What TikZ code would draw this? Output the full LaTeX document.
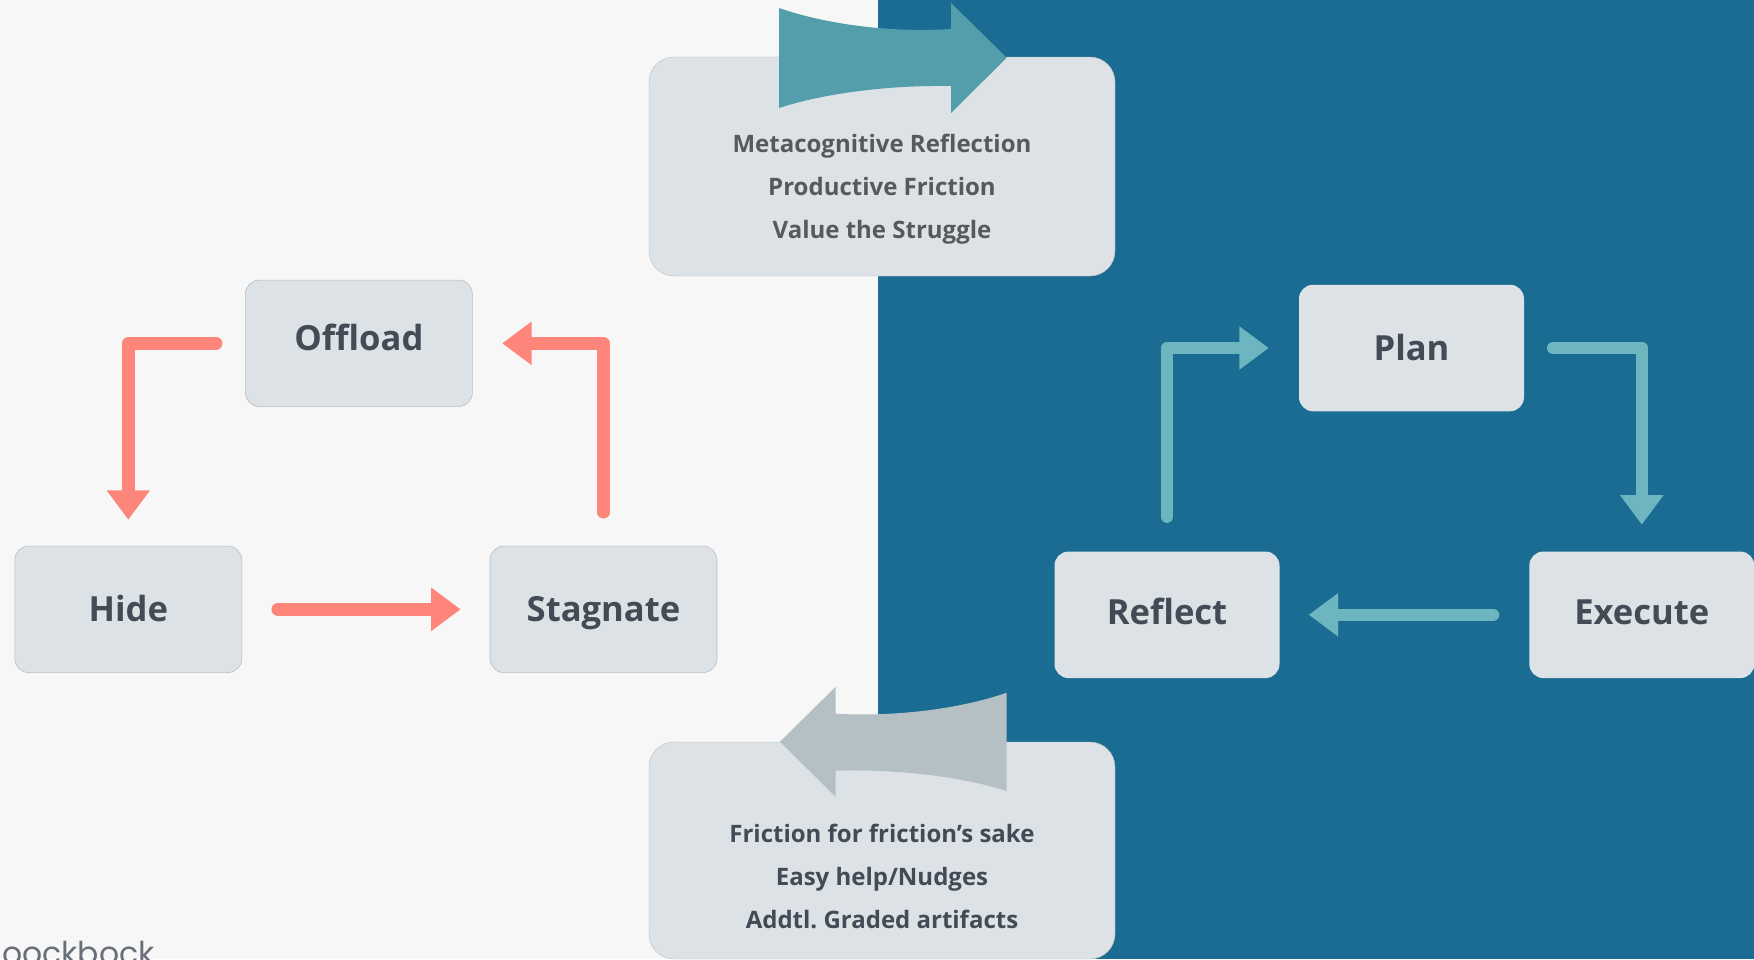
\documentclass[tikz,border=0pt]{standalone}
\usepackage{fontspec}
\setmainfont{Open Sans}
\newfontfamily\logofont{Poppins}
\usetikzlibrary{arrows.meta}
\definecolor{paper}{HTML}{F7F7F7}
\definecolor{deep}{HTML}{1B6C92}
\definecolor{boxfill}{HTML}{DDE2E6}
\definecolor{boxline}{HTML}{B9BEC3}
\definecolor{ink}{HTML}{434B56}
\definecolor{inkgrey}{HTML}{58595B}
\definecolor{salmon}{HTML}{FE8579}
\definecolor{aqua}{HTML}{6DB6BF}
\definecolor{teal}{HTML}{549DAB}
\definecolor{ash}{HTML}{B5C0C5}
\tikzset{
    block/.style = {
        shape=rectangle,
        rounded corners=14pt,
        fill=boxfill,
        inner sep=0pt,
        minimum width=227pt,
        minimum height=126.5pt,
        text=ink,
        font=\fontsize{34.6}{34.6}\selectfont\bfseries,
        text height=25pt,
        text depth=0pt
    },
    edged/.style = {
        draw=boxline,
        line width=0.6pt
    },
    bare/.style = {
        minimum width=225pt
    },
    note/.style = {
        shape=rectangle,
        rounded corners=25pt,
        fill=boxfill,
        draw=boxline,
        line width=0.4pt,
        inner sep=0pt,
        minimum width=466pt
    },
    notetext/.style = {
        align=center,
        inner sep=0pt,
        font=\fontsize{24}{43}\selectfont\bfseries\frenchspacing
    },
    loopline/.style = {
        line width=12.5pt,
        line cap=round,
        line join=round,
        -{Triangle[length=29.5pt,width=41.5pt]}
    },
}

\begin{document}
\begin{tikzpicture}[x=1pt,y=-1pt]
    \useasboundingbox (0,0) rectangle (1754,959);
    \fill[paper] (0,0) rectangle (878,959);
    \fill[deep] (878,0) rectangle (1754,959);

    \node[note, minimum height=219pt] (topnote) at (882,166.5) {};
    \node[note, minimum height=217pt] (lownote) at (882,850.5) {};

    \fill[teal] (779,8) .. controls (825,24) and (890,33) .. (951,29)
        -- (951,3) -- (1006.7,57.7) -- (951,113) -- (951,86)
        .. controls (890,85) and (825,93) .. (779,108) -- cycle;
    \fill[ash] (1006.7,692.7) .. controls (960,709) and (895,717) .. (835.7,713.7)
        -- (835.7,686.7) -- (780,741.7) -- (835.7,797) -- (835.7,770.7)
        .. controls (895,769) and (960,776) .. (1006.7,791) -- cycle;

    \node[notetext, text=inkgrey] (toptext) at (882,189) {Metacognitive Reflection\\Productive Friction\\Value the Struggle};
    \node[notetext, text=ink] (lowtext) at (882,876.3) {Friction for friction’s sake\\Easy help/Nudges\\Addtl. Graded artifacts};

    \node[block, edged] (offload) at (358.9,343.3) {\raisebox{5pt}{Offload}};
    \node[block, edged] (hide) at (128.3,609.3) {Hide};
    \node[block, edged] (stagnate) at (603.5,609.3) {Stagnate};

    \node[block, bare] (plan) at (1411.5,348) {Plan};
    \node[block, bare] (reflect) at (1167,614.8) {\raisebox{3pt}{Reflect}};
    \node[block, bare] (execute) at (1641.8,614.8) {\raisebox{3pt}{Execute}};

    \draw[loopline, salmon, shorten <=29pt, shorten >=26pt] (offload.west) -| (hide.north);
    \draw[loopline, salmon, shorten <=35.6pt, shorten >=29pt] (hide.east) -- (stagnate.west);
    \draw[loopline, salmon, shorten <=33.5pt, shorten >=29.4pt] (stagnate.north) |- (offload.east);

    \draw[loopline, aqua, shorten <=29pt, shorten >=26.7pt] (plan.east) -| (execute.north);
    \draw[loopline, aqua, shorten <=36pt, shorten >=29pt] (execute.west) -- (reflect.east);
    \draw[loopline, aqua, shorten <=34.7pt, shorten >=30pt] (reflect.north) |- (plan.west);

    \node[anchor=base west, inner sep=0pt, text=ink!80, font=\logofont\fontsize{31.5}{31.5}\selectfont] (logo) at (2,964.5) {oockbock};
\end{tikzpicture}
\end{document}
